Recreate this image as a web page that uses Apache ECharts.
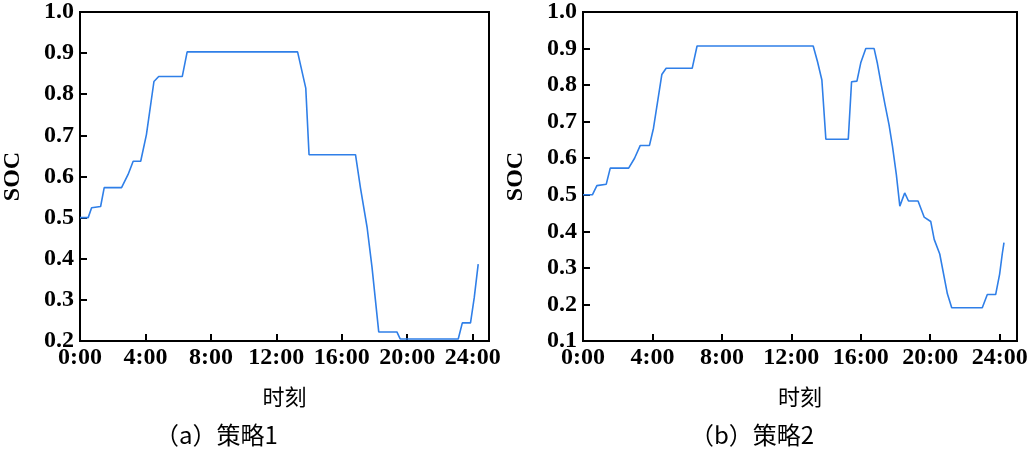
<!DOCTYPE html>
<html><head><meta charset="utf-8">
<script src="https://cdn.jsdelivr.net/npm/echarts@6/dist/echarts.min.js"></script>
<style>html,body{margin:0;padding:0;background:#fff}#c{width:1035px;height:457px}</style>
</head><body><div id="c"></div>
<script>
const hoursA=[0,0.5,0.71,1.26,1.48,2.54,2.94,3.25,3.71,4.06,4.52,4.81,6.25,6.55,13.3,13.8,14.0,16.84,17.14,17.55,17.85,18.26,19.37,19.57,23.12,23.37,23.87,24.1,24.34];
const socA=[0.5,0.5,0.524,0.527,0.573,0.573,0.605,0.637,0.637,0.702,0.831,0.843,0.843,0.903,0.903,0.815,0.653,0.653,0.573,0.476,0.379,0.222,0.222,0.205,0.205,0.244,0.244,0.306,0.387];
const hoursB=[0,0.54,0.8,1.34,1.57,2.63,2.97,3.3,3.83,4.06,4.54,4.79,6.29,6.57,13.26,13.51,13.76,13.99,15.28,15.47,15.78,16.0,16.29,16.77,16.96,17.15,17.4,17.63,17.83,18.05,18.25,18.53,18.75,19.3,19.65,20.03,20.23,20.55,20.99,21.24,23.0,23.29,23.77,24.0,24.15,24.25];
const socB=[0.5,0.5,0.525,0.529,0.573,0.573,0.6,0.635,0.635,0.682,0.829,0.846,0.846,0.907,0.907,0.864,0.814,0.652,0.652,0.809,0.811,0.861,0.9,0.9,0.859,0.809,0.746,0.691,0.632,0.555,0.469,0.505,0.483,0.483,0.439,0.427,0.378,0.338,0.229,0.191,0.191,0.227,0.227,0.283,0.338,0.369];
const xTicks=['0:00','4:00','8:00','12:00','16:00','20:00','24:00'];
const captions=['（a）策略1','（b）策略2'];
const font="'Liberation Serif', 'DejaVu Serif', serif";
const lbl={color:'#000',fontFamily:font,fontWeight:'bold',fontSize:24};
function xAxis(i){return {type:'value',gridIndex:i,min:0,max:25,interval:4,
 axisLine:{lineStyle:{color:'#000',width:2}},axisTick:{inside:true,length:7,lineStyle:{color:'#000',width:2}},
 splitLine:{show:false},axisLabel:Object.assign({margin:5,showMaxLabel:false,formatter:v=>(v%4===0&&v<=24)?xTicks[v/4]:''},lbl),
 name:'时刻',nameLocation:'middle',nameGap:45,nameTextStyle:{color:'#000',fontFamily:"'Noto Sans CJK SC'",fontSize:22}};}
function yAxis(i,min){return {type:'value',gridIndex:i,min:min,max:1.0,interval:0.1,
 axisLine:{lineStyle:{color:'#000',width:2}},axisTick:{inside:true,length:7,lineStyle:{color:'#000',width:2}},
 splitLine:{show:false},axisLabel:Object.assign({margin:6,formatter:v=>v.toFixed(1)},lbl),
 name:'SOC',nameLocation:'middle',nameGap:55,nameTextStyle:{color:'#000',fontFamily:font,fontWeight:'bold',fontSize:24}};}
const ser=(i,xs,ys)=>({type:'line',xAxisIndex:i,yAxisIndex:i,data:xs.map((x,k)=>[x,ys[k]]),showSymbol:false,lineStyle:{color:'#2f7fe8',width:1.6},animation:false});
const chart=echarts.init(document.getElementById('c'));
chart.setOption({
 animation:false,
 grid:[{left:77,top:10,width:412,height:331,show:true,borderColor:'#000',borderWidth:2},
       {left:583,top:10,width:434,height:331,show:true,borderColor:'#000',borderWidth:2}],
 xAxis:[xAxis(0),xAxis(1)],
 yAxis:[yAxis(0,0.2),yAxis(1,0.1)],
 series:[ser(0,hoursA,socA),ser(1,hoursB,socB)],
 graphic:[
  {type:'text',left:155,top:423,style:{text:captions[0],fill:'#000',font:"24px 'Noto Sans CJK SC'"}},
  {type:'text',left:690,top:423,style:{text:captions[1],fill:'#000',font:"24px 'Noto Sans CJK SC'"}}
 ]
});
</script></body></html>
